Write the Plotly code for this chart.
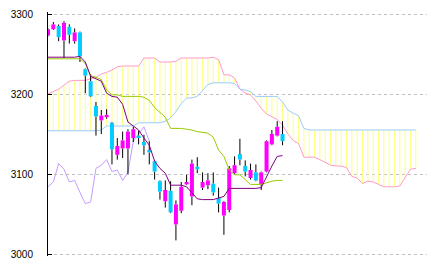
import plotly.graph_objects as go

# ---------------- data ----------------
opens = [3273, 3281, 3285, 3267, 3284, 3266, 3277, 3231, 3216, 3185,
         3167, 3171, 3164, 3124, 3132, 3132, 3145, 3148, 3140, 3130,
         3116, 3091, 3066, 3079, 3037, 3054, 3087, 3072, 3109, 3083,
         3086, 3088, 3070, 3048, 3055, 3101, 3125, 3110, 3095, 3102,
         3087, 3103, 3137, 3148, 3150]
closes = [3281, 3287, 3271, 3289, 3274, 3277, 3247, 3223, 3197, 3172,
          3173, 3174, 3131, 3135, 3142, 3153, 3156, 3145, 3136, 3127,
          3103, 3078, 3080, 3052, 3062, 3084, 3090, 3113, 3106, 3090,
          3092, 3077, 3063, 3065, 3107, 3111, 3118, 3103, 3105, 3092,
          3102, 3141, 3150, 3159, 3141]
highs = [3282, 3290, 3287, 3291, 3287, 3282, 3278, 3232, 3225, 3190,
         3180, 3181, 3165, 3145, 3153, 3156, 3159, 3154, 3149, 3141,
         3117, 3092, 3092, 3091, 3067, 3090, 3099, 3118, 3121, 3102,
         3101, 3102, 3083, 3066, 3110, 3122, 3144, 3117, 3113, 3112,
         3103, 3142, 3155, 3166, 3166]
lows = [3272, 3280, 3266, 3245, 3263, 3263, 3240, 3201, 3196, 3148,
        3150, 3169, 3112, 3118, 3120, 3100, 3140, 3137, 3124, 3112,
        3093, 3068, 3058, 3051, 3017, 3051, 3086, 3061, 3101, 3080,
        3081, 3073, 3052, 3024, 3052, 3100, 3111, 3097, 3093, 3091,
        3080, 3102, 3136, 3147, 3136]

tenkan = [3246, 3246, 3246, 3246, 3246, 3246, 3247, 3240, 3222, 3219,
          3216, 3201, 3197, 3196, 3187, 3165, 3160, 3155, 3145, 3136,
          3116, 3107, 3101, 3086, 3086, 3086, 3084, 3077, 3069, 3068,
          3068, 3068, 3070, 3072, 3082, 3082, 3082, 3082, 3082, 3082,
          3083, 3097, 3110, 3122, 3123]
kijun = [3244, 3244, 3244, 3244, 3244, 3244, 3244, 3238, 3223, 3221,
         3218, 3205, 3199, 3199, 3197, 3197, 3197, 3197, 3196, 3192,
         3183, 3177, 3171, 3157, 3157, 3157, 3156, 3155, 3153, 3152,
         3151, 3146, 3130, 3122, 3105, 3099, 3099, 3093, 3087, 3087,
         3087, 3089, 3091, 3092, 3092]
chikou = [3084, 3090, 3113, 3106, 3090, 3092, 3077, 3063, 3065, 3107,
          3111, 3118, 3103, 3105, 3092, 3102, 3141, 3150, 3159, 3141]
senkou_a = [3200, 3203, 3206, 3211, 3216, 3217, 3217, 3217, 3219, 3221,
            3225, 3227, 3230, 3234, 3235, 3235, 3235, 3235, 3245, 3245,
            3245, 3240, 3240, 3240, 3241, 3245, 3245, 3245, 3245, 3245,
            3245, 3246, 3243, 3224, 3224, 3220, 3206, 3201, 3199, 3191,
            3182, 3175, 3171, 3168, 3161, 3150, 3142, 3138, 3121, 3121,
            3121, 3118, 3115, 3111, 3110, 3110, 3108, 3097, 3095, 3088,
            3091, 3090, 3087, 3084, 3084, 3084, 3085, 3096, 3106, 3107]
senkou_b = [3154, 3154, 3154, 3154, 3154, 3154, 3154, 3154, 3154, 3154,
            3155, 3160, 3160, 3160, 3160, 3160, 3160, 3164, 3164, 3164,
            3164, 3164, 3166, 3170, 3178, 3188, 3195, 3195, 3197, 3205,
            3212, 3214, 3214, 3214, 3214, 3213, 3206, 3205, 3203, 3197,
            3197, 3197, 3197, 3197, 3190, 3180, 3176, 3173, 3157, 3155,
            3155, 3155, 3155, 3155, 3155, 3155, 3155, 3155, 3155, 3155,
            3155, 3155, 3155, 3155, 3155, 3155, 3155, 3155, 3155, 3155]

y_ticks = [3000, 3100, 3200, 3300]
y_tick_labels = ["3000", "3100", "3200", "3300"]

# ---------------- figure ----------------
n = len(opens)
xc = list(range(n))
xs = list(range(len(senkou_a)))
xk = list(range(len(chikou)))

fig = go.Figure()

# cloud hatch (vertical lines between the two spans)
hx, hy = [], []
for i, (a, b) in enumerate(zip(senkou_a, senkou_b)):
    hx += [i, i, None]
    hy += [a, b, None]
fig.add_trace(go.Scatter(x=hx, y=hy, mode="lines",
                         line=dict(color="#ffff80", width=1), hoverinfo="skip"))
fig.add_trace(go.Scatter(x=xs, y=senkou_a, mode="lines",
                         line=dict(color="#ff99cc", width=1)))
fig.add_trace(go.Scatter(x=xs, y=senkou_b, mode="lines",
                         line=dict(color="#99ccff", width=1)))
fig.add_trace(go.Scatter(x=xk, y=chikou, mode="lines",
                         line=dict(color="#c49cff", width=1)))

# wicks (above and below body)
wx, wy = [], []
for i in xc:
    top = max(opens[i], closes[i])
    bot = min(opens[i], closes[i])
    wx += [i, i, None, i, i, None]
    wy += [highs[i], top, None, bot, lows[i], None]
fig.add_trace(go.Scatter(x=wx, y=wy, mode="lines",
                         line=dict(color="black", width=1)))

# bodies
ux, uy, dx, dy = [], [], [], []
for i in xc:
    if closes[i] >= opens[i]:
        ux += [i, i, None]
        uy += [opens[i], closes[i], None]
    else:
        dx += [i, i, None]
        dy += [opens[i], closes[i], None]
fig.add_trace(go.Scatter(x=ux, y=uy, mode="lines",
                         line=dict(color="#ff00ff", width=4)))
fig.add_trace(go.Scatter(x=dx, y=dy, mode="lines",
                         line=dict(color="#00ccff", width=4)))

fig.add_trace(go.Scatter(x=xc, y=kijun, mode="lines",
                         line=dict(color="#99cc00", width=1)))
fig.add_trace(go.Scatter(x=xc, y=tenkan, mode="lines",
                         line=dict(color="#800080", width=1)))

fig.update_layout(
    width=432, height=268,
    margin=dict(l=48, r=5, t=12, b=12),
    paper_bgcolor="white", plot_bgcolor="white",
    showlegend=False, hovermode=False,
    xaxis=dict(range=[0, 71.1], showgrid=False, zeroline=False,
               showline=False, showticklabels=False, ticks=""),
    yaxis=dict(range=[2997.5, 3302.5], tickvals=y_ticks, ticktext=y_tick_labels,
               showgrid=True, gridcolor="#c0c0c0", gridwidth=1, griddash="3px,3px",
               zeroline=False, showline=True, linecolor="black", linewidth=1,
               ticks="inside", ticklen=4, tickcolor="black", tickwidth=1,
               ticklabelstandoff=12,
               tickfont=dict(family="Liberation Sans", size=10, color="black")),
)

fig.write_html("out.html")
